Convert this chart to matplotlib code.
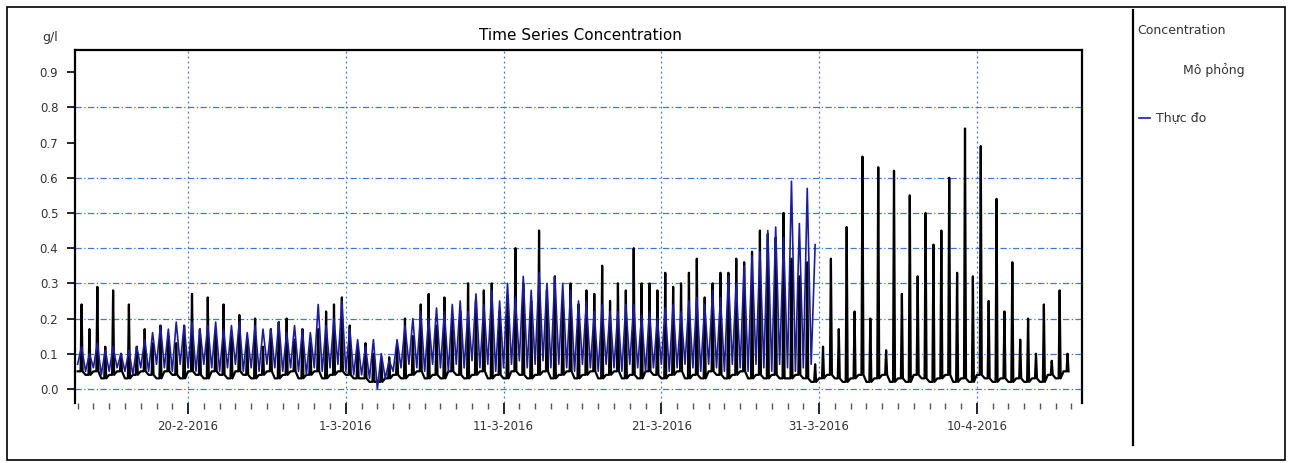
import numpy as np
import pandas as pd
import matplotlib
matplotlib.use("Agg")
import matplotlib.pyplot as plt
import matplotlib.dates as mdates
from matplotlib.lines import Line2D

# ---------------- data ----------------
start_time = "2016-02-13 00:00"

# simulated (black): two peaks per day, troughs between
sim_peaks = [
    0.24, 0.17, 0.29, 0.12, 0.28, 0.10, 0.24, 0.12, 0.17, 0.13, 0.18, 0.15, 0.13, 0.18,
    0.27, 0.17, 0.26, 0.16, 0.24, 0.15, 0.21, 0.14, 0.20, 0.12, 0.17, 0.19, 0.20, 0.14,
    0.17, 0.13, 0.17, 0.22, 0.24, 0.26, 0.18, 0.12, 0.13, 0.10, 0.08, 0.09, 0.12, 0.20,
    0.15, 0.24, 0.27, 0.18, 0.26, 0.20, 0.22, 0.30, 0.25, 0.28, 0.30, 0.22, 0.25, 0.40,
    0.30, 0.25, 0.45, 0.28, 0.32, 0.25, 0.30, 0.24, 0.28, 0.27, 0.35, 0.25, 0.30, 0.28,
    0.40, 0.30, 0.30, 0.28, 0.33, 0.29, 0.30, 0.33, 0.37, 0.26, 0.30, 0.33, 0.33, 0.37,
    0.36, 0.39, 0.45, 0.44, 0.43, 0.50, 0.37, 0.32, 0.36, 0.07, 0.12, 0.37, 0.17, 0.46,
    0.22, 0.66, 0.20, 0.63, 0.11, 0.62, 0.27, 0.55, 0.32, 0.50, 0.41, 0.45, 0.60, 0.33,
    0.74, 0.32, 0.69, 0.25, 0.54, 0.22, 0.36, 0.14, 0.20, 0.10, 0.24, 0.08, 0.28, 0.10,
]
sim_troughs = [
    0.05, 0.04, 0.05, 0.03, 0.04, 0.05, 0.03, 0.04, 0.05, 0.04, 0.03, 0.05, 0.04, 0.03,
    0.05, 0.04, 0.03, 0.05, 0.04, 0.03, 0.05, 0.04, 0.03, 0.04, 0.05, 0.03, 0.04, 0.05,
    0.03, 0.04, 0.05, 0.03, 0.04, 0.05, 0.04, 0.03, 0.03, 0.02, 0.02, 0.03, 0.04, 0.03,
    0.04, 0.05, 0.03, 0.04, 0.03, 0.05, 0.04, 0.03, 0.04, 0.05, 0.03, 0.04, 0.03, 0.05,
    0.04, 0.03, 0.04, 0.05, 0.03, 0.04, 0.05, 0.03, 0.04, 0.05, 0.03, 0.04, 0.05, 0.03,
    0.04, 0.03, 0.05, 0.04, 0.03, 0.04, 0.05, 0.03, 0.04, 0.03, 0.05, 0.04, 0.03, 0.04,
    0.05, 0.03, 0.04, 0.03, 0.04, 0.03, 0.03, 0.04, 0.03, 0.02, 0.03, 0.04, 0.03, 0.02,
    0.03, 0.04, 0.02, 0.03, 0.04, 0.02, 0.03, 0.02, 0.04, 0.03, 0.02, 0.03, 0.04, 0.02,
    0.03, 0.02, 0.04, 0.03, 0.02, 0.03, 0.02, 0.03, 0.02, 0.03, 0.02, 0.04, 0.03, 0.05,
]

# measured (blue)
obs_peaks = [
    0.12, 0.10, 0.13, 0.11, 0.12, 0.10, 0.11, 0.12, 0.14, 0.16, 0.18, 0.17, 0.19, 0.18,
    0.19, 0.17, 0.18, 0.19, 0.17, 0.18, 0.19, 0.16, 0.18, 0.17, 0.17, 0.19, 0.16, 0.18,
    0.17, 0.16, 0.24, 0.18, 0.20, 0.25, 0.17, 0.14, 0.12, 0.14, 0.10, 0.08, 0.14, 0.18,
    0.20, 0.22, 0.20, 0.23, 0.22, 0.24, 0.25, 0.22, 0.27, 0.24, 0.28, 0.25, 0.30, 0.26,
    0.32, 0.28, 0.33, 0.30, 0.32, 0.30, 0.28, 0.25, 0.25, 0.22, 0.24, 0.22, 0.22, 0.24,
    0.24, 0.21, 0.22, 0.20, 0.23, 0.24, 0.22, 0.25, 0.26, 0.24, 0.28, 0.26, 0.32, 0.30,
    0.35, 0.38, 0.39, 0.45, 0.46, 0.43, 0.59, 0.47, 0.57, 0.41,
]
obs_troughs = [
    0.07, 0.05, 0.06, 0.04, 0.05, 0.06, 0.05, 0.04, 0.06, 0.05, 0.07, 0.06, 0.05, 0.07,
    0.06, 0.05, 0.07, 0.06, 0.05, 0.06, 0.07, 0.05, 0.06, 0.05, 0.07, 0.06, 0.05, 0.06,
    0.05, 0.04, 0.06, 0.05, 0.06, 0.07, 0.05, 0.04, 0.04, 0.03, 0.00, 0.03, 0.05, 0.06,
    0.07, 0.06, 0.05, 0.07, 0.06, 0.05, 0.07, 0.06, 0.08, 0.06, 0.07, 0.05, 0.06, 0.07,
    0.08, 0.06, 0.07, 0.08, 0.06, 0.07, 0.06, 0.05, 0.07, 0.06, 0.05, 0.07, 0.06, 0.05,
    0.07, 0.06, 0.05, 0.06, 0.07, 0.05, 0.06, 0.07, 0.06, 0.05, 0.07, 0.06, 0.05, 0.07,
    0.06, 0.05, 0.07, 0.06, 0.05, 0.07, 0.06, 0.05, 0.06, 0.07,
]

y_ticks = [0.0, 0.1, 0.2, 0.3, 0.4, 0.5, 0.6, 0.7, 0.8, 0.9]
y_tick_labels = ["0.0", "0.1", "0.2", "0.3", "0.4", "0.5", "0.6", "0.7", "0.8", "0.9"]
y_grid = [0.0, 0.1, 0.2, 0.3, 0.4, 0.5, 0.6, 0.8]
x_major = ["2016-02-20", "2016-03-01", "2016-03-11", "2016-03-21", "2016-03-31", "2016-04-10"]
x_major_labels = ["20-2-2016", "1-3-2016", "11-3-2016", "21-3-2016", "31-3-2016", "10-4-2016"]

title = "Time Series Concentration"
unit = "g/l"
legend_title = "Concentration"
name_sim = "Mô phỏng"
name_obs = "Thực đo"


def spike_series(troughs, peaks):
    """Each half-day: flat trough, then a narrow spike to the peak."""
    t0 = pd.Timestamp(start_time)
    times, vals = [], []
    for k, (tr, pk) in enumerate(zip(troughs, peaks)):
        base = t0 + pd.Timedelta(hours=12 * k)
        times += [base, base + pd.Timedelta(hours=4.5),
                  base + pd.Timedelta(hours=6), base + pd.Timedelta(hours=7.5)]
        vals += [tr, tr, pk, tr]
    return times, vals


def zigzag_series(troughs, peaks):
    """Each half-day: trough then peak, 6 h apart."""
    t0 = pd.Timestamp(start_time)
    times, vals = [], []
    for k, (tr, pk) in enumerate(zip(troughs, peaks)):
        base = t0 + pd.Timedelta(hours=12 * k)
        times += [base, base + pd.Timedelta(hours=6)]
        vals += [tr, pk]
    return times, vals


sim_t, sim_vals = spike_series(sim_troughs, sim_peaks)
obs_t, obs_vals = zigzag_series(obs_troughs, obs_peaks)

# ---------------- figure ----------------
W, H = 1291, 463
fig = plt.figure(figsize=(W / 100, H / 100), dpi=100)
plt.rcParams['font.family'] = ['DejaVu Sans']

ax = fig.add_axes([75 / W, 1 - 403 / H, (1082 - 75) / W, (403 - 50) / H])

ax.plot(sim_t, sim_vals, color="black", lw=1.6, zorder=3)
ax.plot(obs_t, obs_vals, color="#1a1aa8", lw=1.2, zorder=4)

ax.set_ylim(-0.04, 0.963)
ax.set_xlim(pd.Timestamp("2016-02-12 20:00"), pd.Timestamp("2016-04-16 16:00"))

grid_col = "#3c78d8"
for g in y_grid:
    ax.axhline(g, color=grid_col, lw=0.9, ls=(0, (5, 2, 1, 2)), zorder=1)
for d in x_major:
    ax.axvline(pd.Timestamp(d), color=grid_col, lw=0.9, ls=(0, (1.5, 2.5)), zorder=1)

ax.set_yticks(y_ticks)
ax.set_yticklabels(y_tick_labels, fontsize=8.5, color="#333333")
ax.set_xticks([pd.Timestamp(d) for d in x_major])
ax.set_xticklabels(x_major_labels, fontsize=8.5, color="#333333")
ax.xaxis.set_minor_locator(mdates.DayLocator())
ax.tick_params(axis="x", which="major", length=8, width=1.2, direction="out", pad=4)
ax.tick_params(axis="x", which="minor", length=4, width=1.0, direction="out", color="#555555")
ax.tick_params(axis="y", which="major", length=6, width=1.2, direction="out", pad=6)

for s in ["left", "top", "right"]:
    ax.spines[s].set_linewidth(1.6)
    ax.spines[s].set_color("black")
ax.spines["bottom"].set_visible(False)

fig.text(580 / W, 1 - 35 / H, title, fontsize=11, ha="center", va="center")
fig.text(50 / W, 1 - 38 / H, unit, fontsize=9, ha="center", va="center", color="#333333")

# legend panel
fig.add_artist(Line2D([1133 / W, 1133 / W], [1 - 10 / H, 1 - 445 / H], color="black", lw=1.6))
fig.text(1137 / W, 1 - 30 / H, legend_title, fontsize=9, ha="left", va="center", color="#333333")
fig.text(1183 / W, 1 - 70 / H, name_sim, fontsize=9, ha="left", va="center", color="#333333")
fig.add_artist(Line2D([1139 / W, 1150 / W], [1 - 118 / H, 1 - 118 / H], color="#1a1aa8", lw=1.2))
fig.text(1156 / W, 1 - 118 / H, name_obs, fontsize=9, ha="left", va="center", color="#333333")

# outer frame
fig.add_artist(plt.Rectangle((7 / W, 1 - 460 / H), (1285 - 7) / W, (460 - 7) / H,
                             transform=fig.transFigure, fill=False, ec="black", lw=1.2))

fig.savefig("out.png", dpi=100)
